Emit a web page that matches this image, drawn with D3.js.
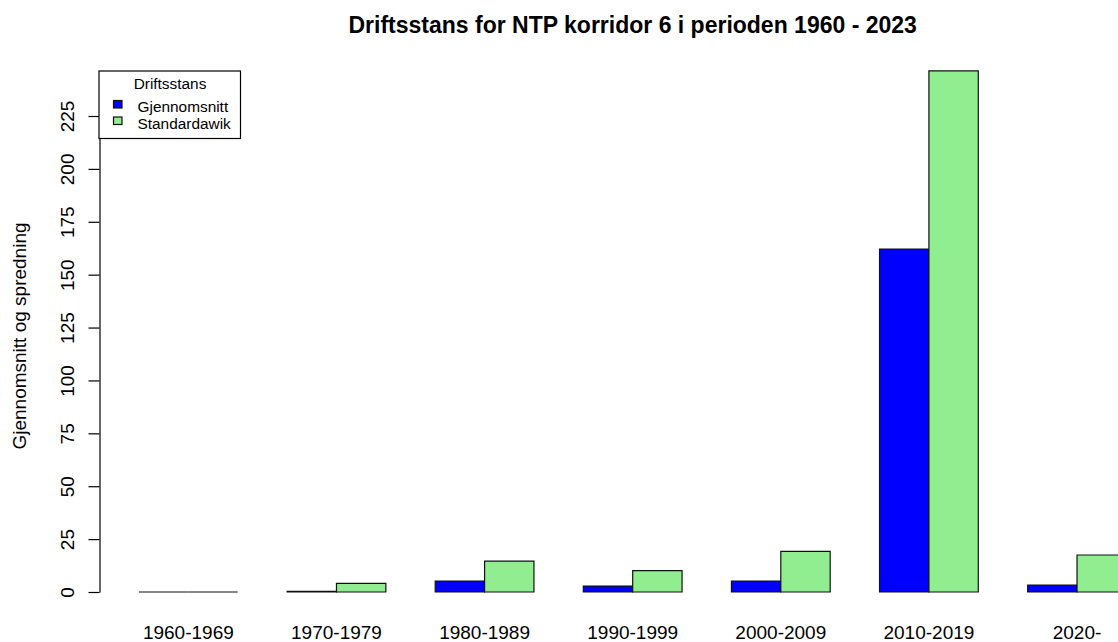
<!DOCTYPE html>
<html>
<head>
<meta charset="utf-8">
<script src="https://cdn.jsdelivr.net/npm/d3@7"></script>
<style>
  html, body { margin: 0; padding: 0; background: #fff; }
  svg { display: block; font-family: Arial, "Liberation Sans", sans-serif; }
</style>
</head>
<body>
<div id="chart"></div>
<script>
// values
const periods = ['1960-1969', '1970-1979', '1980-1989', '1990-1999', '2000-2009', '2010-2019', '2020-'];
const meanValues = [0, 0.3, 5.2, 2.8, 5.2, 162.1, 3.3];
const sdValues = [0, 4.1, 14.6, 10.1, 19.2, 246.3, 17.5];
const yTicks = [0, 25, 50, 75, 100, 125, 150, 175, 200, 225];
const seriesNames = ['Gjennomsnitt', 'Standardawik'];
const seriesColors = ['#0000ff', '#90ee90'];

const width = 1118, height = 642;

const svg = d3.select('#chart')
  .append('svg')
  .attr('width', width)
  .attr('height', height);

// barplot units: each group = 1 space + 2 bars of width 1
const x = d3.scaleLinear().domain([0.2, 21.8]).range([99.5, 99.5 + 21.6 * 49.37]);
const y = d3.scaleLinear().domain([0, 225]).range([592, 116]);

const groups = periods.map((p, i) => ({
  period: p,
  left: 1 + 3 * i,
  values: [meanValues[i], sdValues[i]]
}));

// bars as closed paths so zero-height bars still show their outline
const bars = svg.append('g');
groups.forEach(g => {
  g.values.forEach((v, k) => {
    const x0 = x(g.left + k), x1 = x(g.left + k + 1);
    const y0 = y(0), y1 = y(v);
    bars.append('path')
      .attr('d', `M${x0},${y0}H${x1}V${y1}H${x0}Z`)
      .attr('fill', seriesColors[k])
      .attr('stroke', '#111')
      .attr('stroke-width', 1.2);
  });
});

// group labels
svg.append('g')
  .selectAll('text')
  .data(groups)
  .join('text')
  .attr('x', d => x(d.left + 1))
  .attr('y', 639)
  .attr('text-anchor', 'middle')
  .attr('font-size', 19)
  .attr('fill', '#000')
  .text(d => d.period);

// y axis
const yAxis = svg.append('g')
  .attr('transform', `translate(${x(0.2)},0)`)
  .call(d3.axisLeft(y).tickValues(yTicks).tickSize(11).tickSizeOuter(0).tickFormat(d3.format('d')));
yAxis.select('.domain').attr('stroke', '#000').attr('stroke-width', 1.2);
yAxis.selectAll('.tick line').attr('stroke', '#000').attr('stroke-width', 1.2);
yAxis.selectAll('.tick text')
  .attr('x', null).attr('dy', null)
  .attr('transform', 'translate(-26,0) rotate(-90)')
  .attr('text-anchor', 'middle')
  .attr('font-size', 19)
  .attr('font-family', 'Arial, "Liberation Sans", sans-serif')
  .attr('fill', '#000');

// title
svg.append('text')
  .attr('x', (x(0.2) + x(21.8)) / 2)
  .attr('y', 32.5)
  .attr('text-anchor', 'middle')
  .attr('font-size', 23)
  .attr('font-weight', 'bold')
  .text('Driftsstans for NTP korridor 6 i perioden 1960 - 2023');

// y label
svg.append('text')
  .attr('transform', 'translate(26,336) rotate(-90)')
  .attr('text-anchor', 'middle')
  .attr('font-size', 19)
  .text('Gjennomsnitt og spredning');

// legend
const legend = svg.append('g').attr('transform', 'translate(99,71)');
legend.append('rect')
  .attr('width', 141.5).attr('height', 67.5)
  .attr('fill', '#fff').attr('stroke', '#000').attr('stroke-width', 1.2);
legend.append('text')
  .attr('x', 71).attr('y', 17.7)
  .attr('text-anchor', 'middle')
  .attr('font-size', 15.4)
  .text('Driftsstans');
seriesNames.forEach((name, k) => {
  legend.append('rect')
    .attr('x', 14.5).attr('y', 29.5 + k * 16.5)
    .attr('width', 8.5).attr('height', 7.5)
    .attr('fill', seriesColors[k]).attr('stroke', '#111').attr('stroke-width', 1.2);
  legend.append('text')
    .attr('x', 38.5).attr('y', 41 + k * 16.5)
    .attr('font-size', 15.4)
    .text(name);
});
</script>
</body>
</html>
